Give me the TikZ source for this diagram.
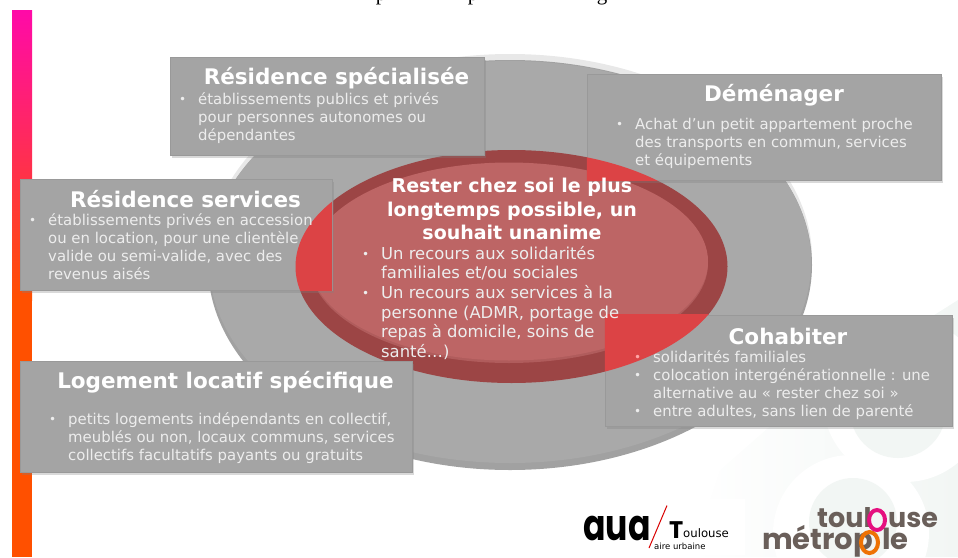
\documentclass[tikz,border=0pt]{standalone}
\usepackage{fontspec}
\setmainfont{DejaVu Sans}
\newfontfamily\logofont{Poppins}
\newfontfamily\serifcut{Liberation Serif}
\usetikzlibrary{shadows}
\usetikzlibrary{calc}
\definecolor{boxgray}{HTML}{A4A4A4}
\definecolor{bigdisc}{HTML}{A9A9A9}
\definecolor{ringred}{HTML}{9C4545}
\definecolor{innerred}{HTML}{BD6565}
\definecolor{innerrim}{HTML}{B05C5C}
\definecolor{hitred}{HTML}{DC4345}
\definecolor{paletxt}{HTML}{EDEDED}
\definecolor{barpink}{HTML}{FF0AA8}
\definecolor{barorange}{HTML}{FF5000}
\definecolor{palebg}{HTML}{F2F6F4}
\definecolor{logobrown}{HTML}{6A5F5A}
\definecolor{logopink}{HTML}{E5107F}
\definecolor{logoorange}{HTML}{EE7203}
\tikzstyle{panel}=[rectangle,fill=boxgray,draw=black!40,line width=0.4pt,inner sep=0pt,drop shadow={shadow xshift=2pt,shadow yshift=-3pt,opacity=0.3}]
\tikzstyle{paneltitle}=[font=\fontsize{21.5}{24}\selectfont\bfseries,text=white,inner sep=0pt]
\tikzstyle{panelbody}=[font=\fontsize{14.9}{18}\selectfont,text=paletxt,align=left,anchor=north west,inner sep=0pt]
\tikzstyle{midtitle}=[font=\fontsize{19}{23.5}\selectfont\bfseries,text=white,align=center,inner sep=0pt]
\tikzstyle{midbody}=[font=\fontsize{16.4}{19.6}\selectfont,text=paletxt,align=left,anchor=north west,inner sep=0pt]
\tikzstyle{brownlogo}=[text=logobrown,inner sep=0pt,anchor=base west]
\tikzstyle{blacklogo}=[text=black,inner sep=0pt,anchor=base west]
\newcommand{\puce}[1][paletxt]{\llap{\raisebox{1pt}{\fontsize{12}{12}\selectfont\textcolor{#1}{\textbullet}}\hspace{12pt}}}
\begin{document}
\begin{tikzpicture}[x=1pt,y=-1pt]
    \useasboundingbox (0,0) rectangle (958,557);
    \clip (0,0) rectangle (958,557);
    % What is left of the line above the slide
    \foreach \pos/\name/\letter in {{(381,0.5)/cuta/p}, {(473,0.5)/cutb/p}, {(602,0.5)/cutc/g}}
        \node[font=\serifcut\fontsize{21}{21}\selectfont,anchor=base,inner sep=0pt] (\name) at \pos {\letter};
    % Pale figure in the corner
    \shade[left color=white, right color=palebg] (958,300) -- (958,557) -- (690,557) -- (720,470) -- (800,400) -- cycle;
    \fill[white] (851,533) circle (78);
    \fill[white] (905,400) circle (82);
    \fill[palebg] (853,522) circle (44);
    \fill[palebg] (898,410) circle (48);
    % The bar on the left
    \shade[top color=barpink, bottom color=barorange] (12,10) rectangle (32,300);
    \fill[barorange] (12,300) rectangle (32,557);
    % The two discs
    \fill[black!9] (510,258) ellipse (302 and 204);
    \fill[black!37] (510,265) ellipse (302 and 205);
    \fill[bigdisc] (510,262) ellipse (301 and 201);
    \fill[ringred] (511.5,266.5) ellipse (216 and 116.5);
    \fill[innerrim] (509,263.5) ellipse (199 and 99.5);
    \fill[innerred] (509,261.5) ellipse (199 and 99);
    % First we draw the panels
    \foreach \pos/\wdth/\hght/\name in {{(327,106)/314/98/spec}, {(176,234.5)/312/111/serv},
                            {(216,416.5)/392/111/locatif}, {(764,127)/354/106/demen},
                            {(778.5,370.5)/347/111/cohab}}
        \node[panel,minimum width=\wdth pt,minimum height=\hght pt] (\name) at \pos {};
    % Red shows through three of them
    \foreach \name in {serv,demen,cohab} {
        \begin{scope}
            \clip (\name.north west) rectangle (\name.south east);
            \fill[hitred] (511.5,266.5) ellipse (216 and 116.5);
        \end{scope}
    }
    % Then the titles and the lists
    \node[paneltitle] (spectitle) at (336.5,78) {Résidence spécialisée};
    \node[panelbody] (specbody) at (198,92) {\puce établissements publics et privés\\pour personnes autonomes ou\\dépendantes};
    \node[paneltitle] (servtitle) at (185.5,199.5) {Résidence services};
    \node[panelbody] (servbody) at (48,213) {\puce établissements privés en accession\\ou en location, pour une clientèle\\valide ou semi-valide, avec des\\revenus aisés};
    \node[paneltitle] (locatiftitle) at (225.5,382) {Logement locatif spécifique};
    \node[panelbody] (locatifbody) at (68,412) {\puce petits logements indépendants en collectif,\\meublés ou non, locaux communs, services\\collectifs facultatifs payants ou gratuits};
    \node[paneltitle] (dementitle) at (774,95) {Déménager};
    \node[panelbody] (demenbody) at (635,118) {\puce Achat d’un petit appartement proche\\des transports en commun, services\\et équipements};
    \node[paneltitle] (cohabtitle) at (788,336) {Cohabiter};
    \node[panelbody] (cohabbody) at (653,350) {\puce[red!35!white]solidarités familiales\\\puce colocation intergénérationnelle : une\\alternative au « rester chez soi »\\\puce entre adultes, sans lien de parenté};
    \node[midtitle] (midhead) at (512,209) {Rester chez soi le plus\\longtemps possible, un\\souhait unanime};
    \node[midbody] (midlist) at (381,246) {\puce Un recours aux solidarités\\familiales et/ou sociales\\\puce Un recours aux services à la\\personne (ADMR, portage de\\repas à domicile, soins de\\santé…)};
    % The two logos
    \fill[white] (583,499) rectangle (745,555);
    \node[blacklogo,font=\logofont\fontsize{43}{43}\selectfont\bfseries] (aua) at (583,540) {\scalebox{0.77}[1]{aua}};
    \node[blacklogo,font=\logofont\fontsize{24}{24}\selectfont\bfseries] (bigt) at (669,538) {T};
    \node[blacklogo,font=\fontsize{11.7}{11.7}\selectfont] (oulouse) at (683,537) {oulouse};
    \node[blacklogo,font=\fontsize{8.5}{8.5}\selectfont] (aire) at (654,549) {aire urbaine};
    \draw[red!85!black,line width=1pt] (667,505.5) -- (649,548);
    \node[brownlogo,font=\logofont\fontsize{27}{27}\selectfont\bfseries] (toul) at (817,527) {toul};
    \node[brownlogo,font=\logofont\fontsize{27}{27}\selectfont\bfseries] (use) at (888,527) {use};
    \node[brownlogo,font=\logofont\fontsize{29}{29}\selectfont\bfseries] (metrop) at (762,549) {métrop};
    \node[brownlogo,font=\logofont\fontsize{29}{29}\selectfont\bfseries] (le) at (882,549) {le};
    \draw[color=logoorange,line width=4pt] (869.5,542.5) ellipse (8.5 and 10.5);
    \draw[color=logopink,line width=4pt] (877,520) ellipse (8 and 10);
\end{tikzpicture}
\end{document}
